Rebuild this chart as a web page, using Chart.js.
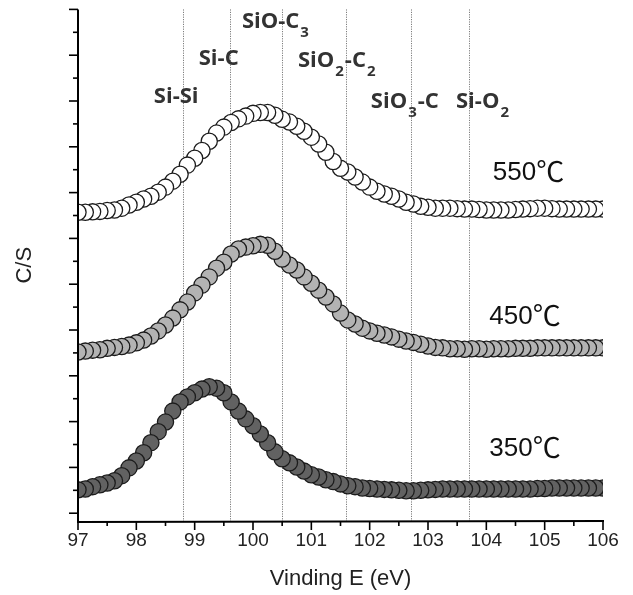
<!DOCTYPE html>
<html>
<head>
<meta charset="utf-8">
<script src="https://cdn.jsdelivr.net/npm/chart.js@4.4.1/dist/chart.umd.min.js"></script>
<style>
  html, body { margin: 0; padding: 0; background: #ffffff; }
  #wrap { width: 633px; height: 595px; position: relative; }
</style>
</head>
<body>
<div id="wrap"><canvas id="c" width="633" height="595"></canvas></div>
<script>
// ---- Data (binding energy grid, eV) ----
const energies = [97, 97.125, 97.25, 97.375, 97.5, 97.625, 97.75, 97.875,
  98, 98.125, 98.25, 98.375, 98.5, 98.625, 98.75, 98.875,
  99, 99.125, 99.25, 99.375, 99.5, 99.625, 99.75, 99.875,
  100, 100.125, 100.25, 100.375, 100.5, 100.625, 100.75, 100.875,
  101, 101.125, 101.25, 101.375, 101.5, 101.625, 101.75, 101.875,
  102, 102.125, 102.25, 102.375, 102.5, 102.625, 102.75, 102.875,
  103, 103.125, 103.25, 103.375, 103.5, 103.625, 103.75, 103.875,
  104, 104.125, 104.25, 104.375, 104.5, 104.625, 104.75, 104.875,
  105, 105.125, 105.25, 105.375, 105.5, 105.625, 105.75, 105.875,
  106];

const cs550 = [6.57, 6.57, 6.58, 6.59, 6.61, 6.62, 6.66, 6.73,
  6.79, 6.86, 6.92, 7.01, 7.12, 7.25, 7.40, 7.60,
  7.75, 7.92, 8.12, 8.30, 8.43, 8.53, 8.61, 8.67,
  8.73, 8.75, 8.75, 8.69, 8.60, 8.54, 8.45, 8.34,
  8.21, 8.06, 7.88, 7.68, 7.53, 7.45, 7.34, 7.23,
  7.12, 7.03, 6.97, 6.92, 6.86, 6.79, 6.75, 6.70,
  6.68, 6.66, 6.66, 6.66, 6.65, 6.64, 6.64, 6.63,
  6.62, 6.62, 6.62, 6.62, 6.63, 6.64, 6.65, 6.66,
  6.66, 6.65, 6.64, 6.64, 6.64, 6.64, 6.64, 6.64,
  6.64];

const cs450 = [3.52, 3.54, 3.56, 3.57, 3.60, 3.62, 3.64, 3.67,
  3.72, 3.78, 3.87, 3.98, 4.11, 4.26, 4.44, 4.61,
  4.81, 4.98, 5.16, 5.35, 5.48, 5.66, 5.77, 5.81,
  5.84, 5.87, 5.85, 5.72, 5.55, 5.42, 5.31, 5.16,
  5.02, 4.87, 4.72, 4.57, 4.37, 4.22, 4.13, 4.04,
  3.98, 3.93, 3.89, 3.85, 3.80, 3.76, 3.73, 3.69,
  3.65, 3.62, 3.61, 3.59, 3.59, 3.58, 3.59, 3.59,
  3.58, 3.59, 3.59, 3.59, 3.60, 3.60, 3.60, 3.61,
  3.61, 3.61, 3.61, 3.61, 3.61, 3.61, 3.61, 3.61,
  3.61];

const cs350 = [0.51, 0.53, 0.58, 0.62, 0.66, 0.71, 0.82, 0.99,
  1.14, 1.32, 1.54, 1.78, 1.99, 2.23, 2.43, 2.54,
  2.63, 2.71, 2.76, 2.73, 2.63, 2.43, 2.23, 2.06,
  1.91, 1.73, 1.54, 1.34, 1.19, 1.10, 1.01, 0.92,
  0.84, 0.79, 0.73, 0.69, 0.64, 0.60, 0.58, 0.55,
  0.54, 0.53, 0.52, 0.51, 0.50, 0.49, 0.49, 0.50,
  0.51, 0.52, 0.53, 0.53, 0.53, 0.53, 0.53, 0.53,
  0.53, 0.53, 0.53, 0.53, 0.53, 0.53, 0.53, 0.54,
  0.54, 0.55, 0.55, 0.55, 0.55, 0.55, 0.55, 0.55,
  0.55];

const seriesNames = ['550℃', '450℃', '350℃'];
const xTickValues = [97, 98, 99, 100, 101, 102, 103, 104, 105, 106];

// Chemical-state reference energies (eV) and their labels
const bondEnergies = [98.8, 99.6, 100.5, 101.6, 102.7, 103.7];
const bondNames = [
  [['Si-Si', 0]],
  [['Si-C', 0]],
  [['SiO-C', 0], ['3', 1]],
  [['SiO', 0], ['2', 1], ['-C', 0], ['2', 1]],
  [['SiO', 0], ['3', 1], ['-C', 0]],
  [['Si-O', 0], ['2', 1]]
];

// ---- Label anchor positions (data coordinates) ----
const bondLabelPos = [
  {x: 98.30, y: 8.96}, {x: 99.07, y: 9.78}, {x: 99.81, y: 10.59},
  {x: 100.77, y: 9.74}, {x: 102.02, y: 8.84}, {x: 103.48, y: 8.84}
];
const seriesLabelPos = [
  {x: 104.11, y: 7.27}, {x: 104.05, y: 4.13}, {x: 104.05, y: 1.25}
];

function toPoints(ys) {
  // XPS scans recorded from high to low binding energy
  return energies.map((e, i) => ({x: e, y: ys[i]})).reverse();
}

const fills = ['#ffffff', '#b3b3b3', '#626262'];
const seriesData = [cs550, cs450, cs350];

const datasets = seriesData.map((ys, k) => ({
  label: seriesNames[k],
  data: toPoints(ys),
  showLine: false,
  pointRadius: 8.1,
  pointBorderWidth: 1.3,
  pointBorderColor: '#1c1c1c',
  pointBackgroundColor: fills[k],
  backgroundColor: fills[k],
  borderColor: '#1c1c1c',
  clip: 0
}));

const decorPlugin = {
  id: 'decor',
  beforeDatasetsDraw(chart) {
    const {ctx, chartArea, scales: {x}} = chart;
    ctx.save();
    ctx.strokeStyle = '#7d7d7d';
    ctx.lineWidth = 1;
    ctx.setLineDash([1.2, 1.2]);
    bondEnergies.forEach(e => {
      const px = Math.round(x.getPixelForValue(e)) + 0.5;
      ctx.beginPath();
      ctx.moveTo(px, chartArea.top);
      ctx.lineTo(px, chartArea.bottom);
      ctx.stroke();
    });
    ctx.restore();
  },
  afterDatasetsDraw(chart) {
    const {ctx, chartArea, scales: {x, y}} = chart;
    ctx.save();
    // axes
    ctx.strokeStyle = '#000';
    ctx.lineWidth = 2;
    ctx.setLineDash([]);
    ctx.beginPath();
    ctx.moveTo(chartArea.left, chartArea.top);
    ctx.lineTo(chartArea.left, chartArea.bottom + 1);
    ctx.lineTo(chartArea.right + 1, chartArea.bottom);
    ctx.stroke();
    // y ticks (outward, major at integers, minor at halves)
    ctx.lineWidth = 1.6;
    for (let v = 0; v <= 11; v += 0.5) {
      const py = y.getPixelForValue(v);
      const len = Number.isInteger(v) ? 9 : 5;
      ctx.beginPath();
      ctx.moveTo(chartArea.left, py);
      ctx.lineTo(chartArea.left - len, py);
      ctx.stroke();
    }
    // x ticks (outward)
    for (let v = 97; v <= 106; v += 0.5) {
      const px = x.getPixelForValue(v);
      const len = Number.isInteger(v) ? 9 : 5;
      ctx.beginPath();
      ctx.moveTo(px, chartArea.bottom);
      ctx.lineTo(px, chartArea.bottom + len);
      ctx.stroke();
    }
    // bond labels
    ctx.fillStyle = '#333333';
    ctx.textBaseline = 'alphabetic';
    ctx.textAlign = 'left';
    bondNames.forEach((parts, i) => {
      let px = x.getPixelForValue(bondLabelPos[i].x);
      const py = y.getPixelForValue(bondLabelPos[i].y);
      parts.forEach(([t, sub]) => {
        if (sub) {
          ctx.font = 'bold 15px "Open Sans"';
          ctx.fillText(t, px + 1, py + 9);
          px += ctx.measureText(t).width + 2;
        } else {
          ctx.font = 'bold 22px "Open Sans"';
          ctx.fillText(t, px, py);
          px += ctx.measureText(t).width;
        }
      });
    });
    // series labels
    ctx.fillStyle = '#111111';
    seriesNames.forEach((name, i) => {
      const px = x.getPixelForValue(seriesLabelPos[i].x);
      const py = y.getPixelForValue(seriesLabelPos[i].y);
      const num = name.replace('℃', '');
      ctx.font = '26px "Liberation Sans"';
      ctx.fillText(num, px, py);
      const w = ctx.measureText(num).width;
      ctx.font = '28px "Noto Sans CJK KR"';
      ctx.fillText('℃', px + w, py + 2);
    });
    ctx.restore();
  }
};

Chart.defaults.font.family = '"Liberation Sans", Arial, sans-serif';
Chart.defaults.color = '#222';

new Chart(document.getElementById('c'), {
  type: 'scatter',
  data: { datasets },
  options: {
    responsive: false,
    animation: false,
    events: [],
    layout: { padding: { top: 9, right: 30, left: 0, bottom: 0 } },
    plugins: { legend: { display: false }, tooltip: { enabled: false } },
    scales: {
      x: {
        type: 'linear',
        min: 97, max: 106,
        afterBuildTicks(scale) { scale.ticks = xTickValues.map(v => ({value: v})); },
        ticks: { font: { size: 19 }, color: '#222', padding: 8, maxRotation: 0, autoSkip: false },
        grid: { display: false, drawTicks: false },
        border: { display: false },
        title: { display: true, text: 'Vinding E (eV)', font: { size: 22 }, color: '#222', padding: { top: 0, bottom: 3 } },
        afterFit(scale) { scale.height = 74; }
      },
      y: {
        type: 'linear',
        min: -0.17, max: 11,
        ticks: { display: false },
        grid: { display: false, drawTicks: false },
        border: { display: false },
        title: { display: true, text: 'C/S', font: { size: 22 }, color: '#222', padding: { top: 12, bottom: 0 } },
        afterFit(scale) { scale.width = 78; }
      }
    }
  },
  plugins: [decorPlugin]
});
</script>
</body>
</html>
